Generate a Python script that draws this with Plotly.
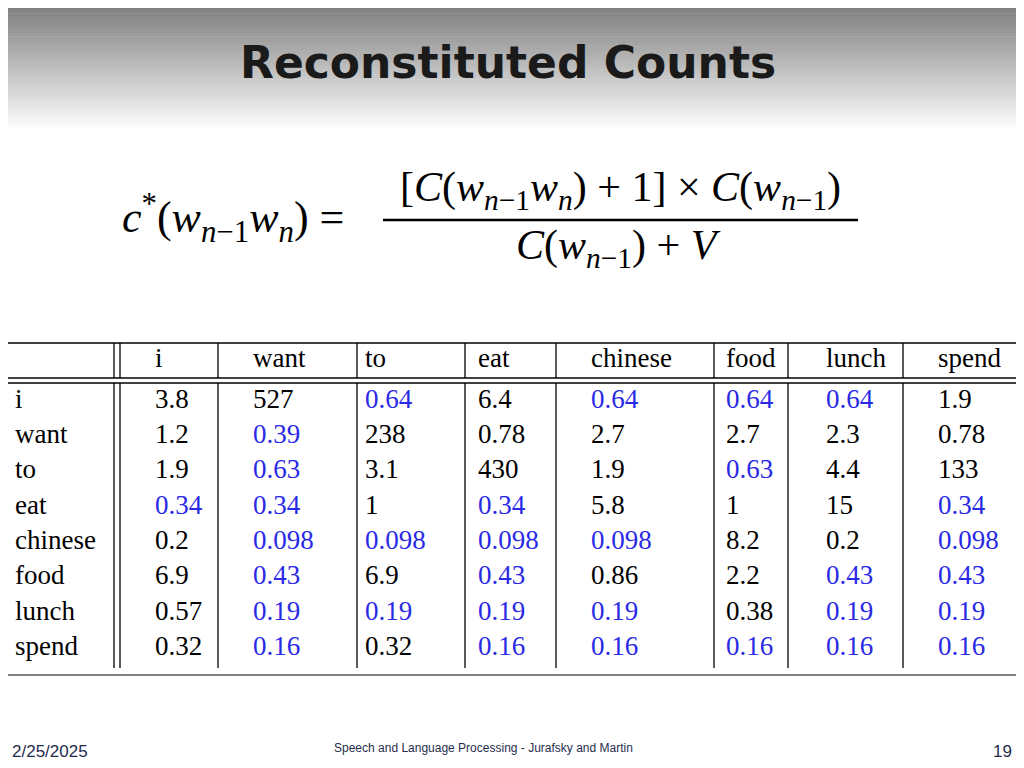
import plotly.graph_objects as go

cols = ["i", "want", "to", "eat", "chinese", "food", "lunch", "spend"]
rows = ["i", "want", "to", "eat", "chinese", "food", "lunch", "spend"]
vals = [
    ["3.8", "527", "0.64", "6.4", "0.64", "0.64", "0.64", "1.9"],
    ["1.2", "0.39", "238", "0.78", "2.7", "2.7", "2.3", "0.78"],
    ["1.9", "0.63", "3.1", "430", "1.9", "0.63", "4.4", "133"],
    ["0.34", "0.34", "1", "0.34", "5.8", "1", "15", "0.34"],
    ["0.2", "0.098", "0.098", "0.098", "0.098", "8.2", "0.2", "0.098"],
    ["6.9", "0.43", "6.9", "0.43", "0.86", "2.2", "0.43", "0.43"],
    ["0.57", "0.19", "0.19", "0.19", "0.19", "0.38", "0.19", "0.19"],
    ["0.32", "0.16", "0.32", "0.16", "0.16", "0.16", "0.16", "0.16"],
]

col_x = [155, 253, 365, 478, 591, 726, 826, 938]
row_y0, row_dy = 401, 35.3
header_y = 360
BLUE = "#2a2ae6"
serif = "Liberation Serif, DejaVu Serif, serif"

fig = go.Figure()

shapes = []
n = 40
for k in range(n):
    t = k / (n - 1)
    g = int(122 + (255 - 122) * t)
    shapes.append(dict(type="rect", x0=-20, x1=1040, y0=k * 3.3, y1=(k + 1) * 3.3 + 0.5,
                       fillcolor=f"rgb({g},{g},{g})", line=dict(width=0), layer="below"))

xs, ys, ts, cs = [], [], [], []
for j, c in enumerate(cols):
    xs.append(col_x[j]); ys.append(header_y); ts.append(c); cs.append("black")
for i, r in enumerate(rows):
    y = row_y0 + i * row_dy
    xs.append(15); ys.append(y); ts.append(r); cs.append("black")
    mn = min(float(v) for v in vals[i])
    for j, v in enumerate(vals[i]):
        xs.append(col_x[j]); ys.append(y); ts.append(v)
        cs.append(BLUE if float(v) == mn else "black")

fig.add_trace(go.Scatter(x=xs, y=ys, text=ts, mode="text", textposition="middle right",
                         textfont=dict(family=serif, size=27, color=cs), hoverinfo="skip"))

ln = dict(color="black", width=1.3)
for y in [343, 378, 383]:
    shapes.append(dict(type="line", x0=5, x1=1018, y0=y, y1=y, line=ln))
shapes.append(dict(type="line", x0=5, x1=1018, y0=675, y1=675, line=dict(color="black", width=1)))
vx = [5, 114, 120, 218, 357, 465, 556, 714, 788, 903, 1018]
for x in vx:
    shapes.append(dict(type="line", x0=x, x1=x, y0=343, y1=378, line=ln))
    shapes.append(dict(type="line", x0=x, x1=x, y0=383, y1=668, line=ln))
shapes.append(dict(type="line", x0=383, x1=858, y0=220, y1=220, line=dict(color="black", width=2.5)))

ann = [
    dict(x=508, y=62, text="<b>Reconstituted Counts</b>", showarrow=False,
         font=dict(family="DejaVu Sans, Verdana, sans-serif", size=44, color="#1a1a1a")),
    dict(x=120, y=218, xanchor="left", showarrow=False,
         text="<i>c</i><sup>*</sup>(<i>w</i><sub><i>n</i>−1</sub><i>w<sub>n</sub></i>) =",
         font=dict(family=serif, size=44, color="black")),
    dict(x=620, y=190, showarrow=False,
         text="[<i>C</i>(<i>w</i><sub><i>n</i>−1</sub><i>w<sub>n</sub></i>) + 1] × <i>C</i>(<i>w</i><sub><i>n</i>−1</sub>)",
         font=dict(family=serif, size=42, color="black")),
    dict(x=618, y=248, showarrow=False,
         text="<i>C</i>(<i>w</i><sub><i>n</i>−1</sub>) + <i>V</i>",
         font=dict(family=serif, size=42, color="black")),
    dict(x=10, y=751, xanchor="left", showarrow=False, text="2/25/2025",
         font=dict(family="Liberation Sans, Arial, sans-serif", size=17, color="#1f2d4d")),
    dict(x=483, y=748, showarrow=False, text="Speech and Language Processing - Jurafsky and Martin",
         font=dict(family="Liberation Sans, Arial, sans-serif", size=12, color="#1f2d4d")),
    dict(x=1014, y=751, xanchor="right", showarrow=False, text="19",
         font=dict(family="Liberation Sans, Arial, sans-serif", size=17, color="#1f2d4d")),
]

fig.update_layout(
    width=1024, height=768, margin=dict(l=0, r=0, t=0, b=0),
    paper_bgcolor="white", plot_bgcolor="white", showlegend=False,
    xaxis=dict(range=[8, 1032], visible=False, fixedrange=True),
    yaxis=dict(range=[776, 8], visible=False, fixedrange=True),
    shapes=shapes, annotations=ann,
)
fig.write_html("out.html")
